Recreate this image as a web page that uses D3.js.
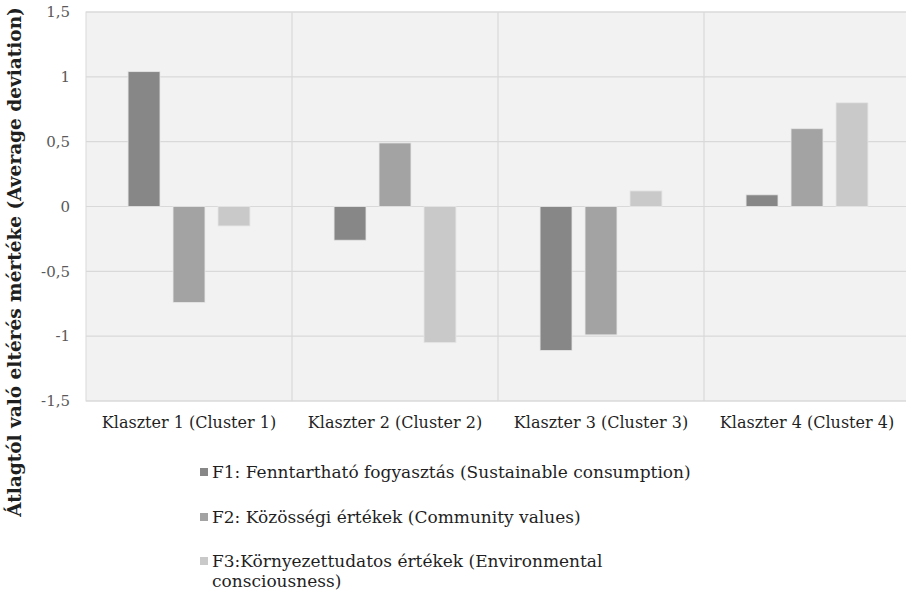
<!DOCTYPE html>
<html>
<head>
<meta charset="utf-8">
<script src="https://cdn.jsdelivr.net/npm/d3@7"></script>
<style>
  body { margin: 0; background: #fff; }
  text { font-family: "DejaVu Serif", Georgia, serif; }
</style>
</head>
<body>
<svg id="chart" width="906" height="595"></svg>
<script>
const clusters = ["Klaszter 1 (Cluster 1)", "Klaszter 2 (Cluster 2)", "Klaszter 3 (Cluster 3)", "Klaszter 4 (Cluster 4)"];
const seriesNames = ["F1", "F2", "F3"];
const f1 = [1.04, -0.26, -1.11, 0.09];
const f2 = [-0.74, 0.49, -0.99, 0.60];
const f3 = [-0.15, -1.05, 0.12, 0.80];
const yTicks = [1.5, 1, 0.5, 0, -0.5, -1, -1.5];
const legendLabels = [
    ["F1: Fenntartható fogyasztás (Sustainable consumption)"],
    ["F2: Közösségi értékek (Community values)"],
    ["F3:Környezettudatos értékek (Environmental", "consciousness)"]
];
const colors = ["#878787", "#a3a3a3", "#c9c9c9"];

const series = [f1, f2, f3];

const svg = d3.select("#chart");
const plotL = 86, plotR = 910, plotT = 12, plotB = 401;

const x = d3.scaleBand().domain(clusters).range([plotL, plotR]);
const xs = d3.scaleBand().domain(seriesNames).range([0, x.bandwidth()]).paddingInner(0.29).paddingOuter(0.935);
const y = d3.scaleLinear().domain([-1.5, 1.5]).range([plotB, plotT]);

// plot background
svg.append("rect")
    .attr("x", plotL).attr("y", plotT)
    .attr("width", plotR - plotL).attr("height", plotB - plotT)
    .attr("fill", "#f2f2f2")
    .attr("stroke", "#d9d9d9");

// horizontal grid
svg.append("g")
    .selectAll("line")
    .data(yTicks)
    .enter()
    .append("line")
    .attr("x1", plotL).attr("x2", plotR)
    .attr("y1", d => y(d)).attr("y2", d => y(d))
    .attr("stroke", "#d9d9d9").attr("stroke-width", 1.2);

// vertical grid between clusters
svg.append("g")
    .selectAll("line")
    .data(clusters.slice(1))
    .enter()
    .append("line")
    .attr("x1", d => x(d)).attr("x2", d => x(d))
    .attr("y1", plotT).attr("y2", plotB)
    .attr("stroke", "#d9d9d9").attr("stroke-width", 1.2);

// bars
series.forEach((vals, i) => {
    svg.append("g")
        .selectAll("rect")
        .data(vals)
        .enter()
        .append("rect")
        .attr("x", (d, j) => x(clusters[j]) + xs(seriesNames[i]))
        .attr("width", xs.bandwidth())
        .attr("y", d => y(Math.max(0, d)))
        .attr("height", d => Math.abs(y(d) - y(0)))
        .attr("fill", colors[i])
        .attr("stroke", "#e6e6e6")
        .attr("stroke-width", 0.8);
});

// y axis labels
const yAxis = d3.axisLeft(y)
    .tickValues(yTicks)
    .tickSize(0)
    .tickPadding(16)
    .tickFormat(d => String(d).replace(".", ","));
svg.append("g")
    .attr("transform", "translate(" + plotL + ",0)")
    .call(yAxis)
    .call(g => g.select(".domain").remove())
    .selectAll("text")
    .attr("fill", "#595959")
    .style("font-size", "15px")
    .style("font-family", "DejaVu Serif");

// x axis labels
const xAxis = d3.axisBottom(x).tickSize(0).tickPadding(16);
svg.append("g")
    .attr("transform", "translate(0," + plotB + ")")
    .call(xAxis)
    .call(g => g.select(".domain").remove())
    .selectAll("text")
    .attr("fill", "#1f1f1f")
    .style("font-size", "16px")
    .style("font-family", "DejaVu Serif");

// y title
svg.append("text")
    .attr("transform", "translate(21,262)rotate(-90)")
    .attr("text-anchor", "middle")
    .style("font-size", "18.5px")
    .style("font-weight", "bold")
    .attr("fill", "#1f1f1f")
    .text("Átlagtól való eltérés mértéke (Average deviation)");

// legend
const legendY = [472, 517, 561];
const legend = svg.append("g")
    .selectAll("g")
    .data(legendLabels)
    .enter()
    .append("g")
    .attr("transform", (d, i) => "translate(200," + legendY[i] + ")");

legend.append("rect")
    .attr("x", 0).attr("y", -4)
    .attr("width", 8).attr("height", 8)
    .attr("fill", (d, i) => colors[i]);

legend.append("text")
    .attr("x", 12)
    .attr("y", 6)
    .style("font-size", "17px")
    .attr("fill", "#1f1f1f")
    .selectAll("tspan")
    .data(d => d)
    .enter()
    .append("tspan")
    .attr("x", 12)
    .attr("dy", (d, i) => i === 0 ? 0 : 20)
    .text(d => d);
</script>
</body>
</html>
